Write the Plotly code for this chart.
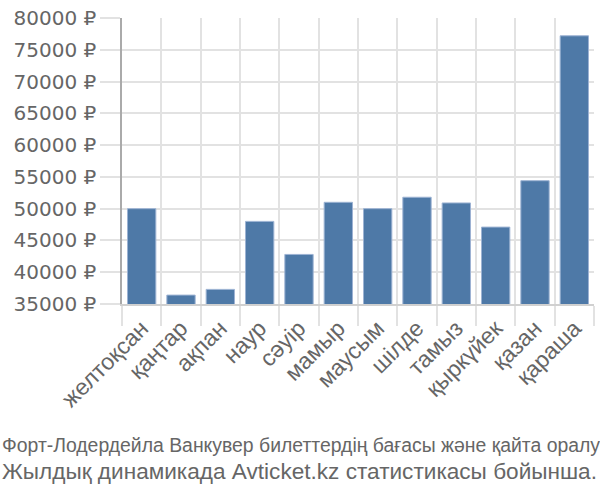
import plotly.graph_objects as go

months = ["желтоқсан", "қаңтар", "ақпан", "наур", "сәуір", "мамыр",
          "маусым", "шілде", "тамыз", "қыркүйек", "қазан", "қараша"]
prices = [50000, 36400, 37300, 48000, 42800, 51000,
          50000, 51800, 50900, 47100, 54400, 77200]
y_ticks = [35000, 40000, 45000, 50000, 55000, 60000, 65000, 70000, 75000, 80000]
title_line1 = "Форт-Лодердейла Ванкувер билеттердің бағасы және қайта оралу"
title_line2 = "Жылдық динамикада Avticket.kz статистикасы бойынша."

W, H = 600, 500
L, R, T, B = 122, 6, 14, 196
pw, ph = W - L - R, H - T - B

fig = go.Figure(go.Bar(
    x=months, y=prices,
    marker=dict(color="#4e79a7", line=dict(color="#9db3d3", width=1)),
    width=0.72,
))

grid = "#e2e2e2"
fig.update_layout(
    width=W, height=H,
    margin=dict(l=L, r=R, t=T, b=B),
    paper_bgcolor="white", plot_bgcolor="white",
    showlegend=False,
    font=dict(family="Liberation Sans, Arial, sans-serif", color="#666666"),
    xaxis=dict(
        type="category", tickson="boundaries",
        showgrid=True, gridcolor=grid, gridwidth=1.5,
        ticks="outside", ticklen=20, tickcolor=grid, tickwidth=1.5,
        tickangle=-45, tickfont=dict(size=23, color="#666666"),
        showline=True, linecolor="#d0d0d0", linewidth=1.5,
        range=[-0.5, len(months) - 0.5],
    ),
    yaxis=dict(
        range=[35000, 80000], tickvals=y_ticks,
        ticktext=[f"{v} ₽" for v in y_ticks],
        showgrid=True, gridcolor=grid, gridwidth=1.5,
        ticks="outside", ticklen=20, tickcolor=grid, tickwidth=1.5,
        tickfont=dict(size=20, family="DejaVu Sans, sans-serif", color="#666666"),
        showline=True, linecolor="#aaaaaa", linewidth=1.5,
        zeroline=False,
    ),
    annotations=[
        dict(text=title_line1, xref="paper", yref="paper",
             x=(0 - L) / pw, y=(T + ph - 447) / ph,
             xanchor="left", yanchor="middle", showarrow=False,
             font=dict(size=19.4, family="Liberation Sans, Arial", color="#666666")),
        dict(text=title_line2, xref="paper", yref="paper",
             x=(0 - L) / pw, y=(T + ph - 474) / ph,
             xanchor="left", yanchor="middle", showarrow=False,
             font=dict(size=22.6, family="Liberation Sans, Arial", color="#666666")),
    ],
)

fig.write_html("out.html")
